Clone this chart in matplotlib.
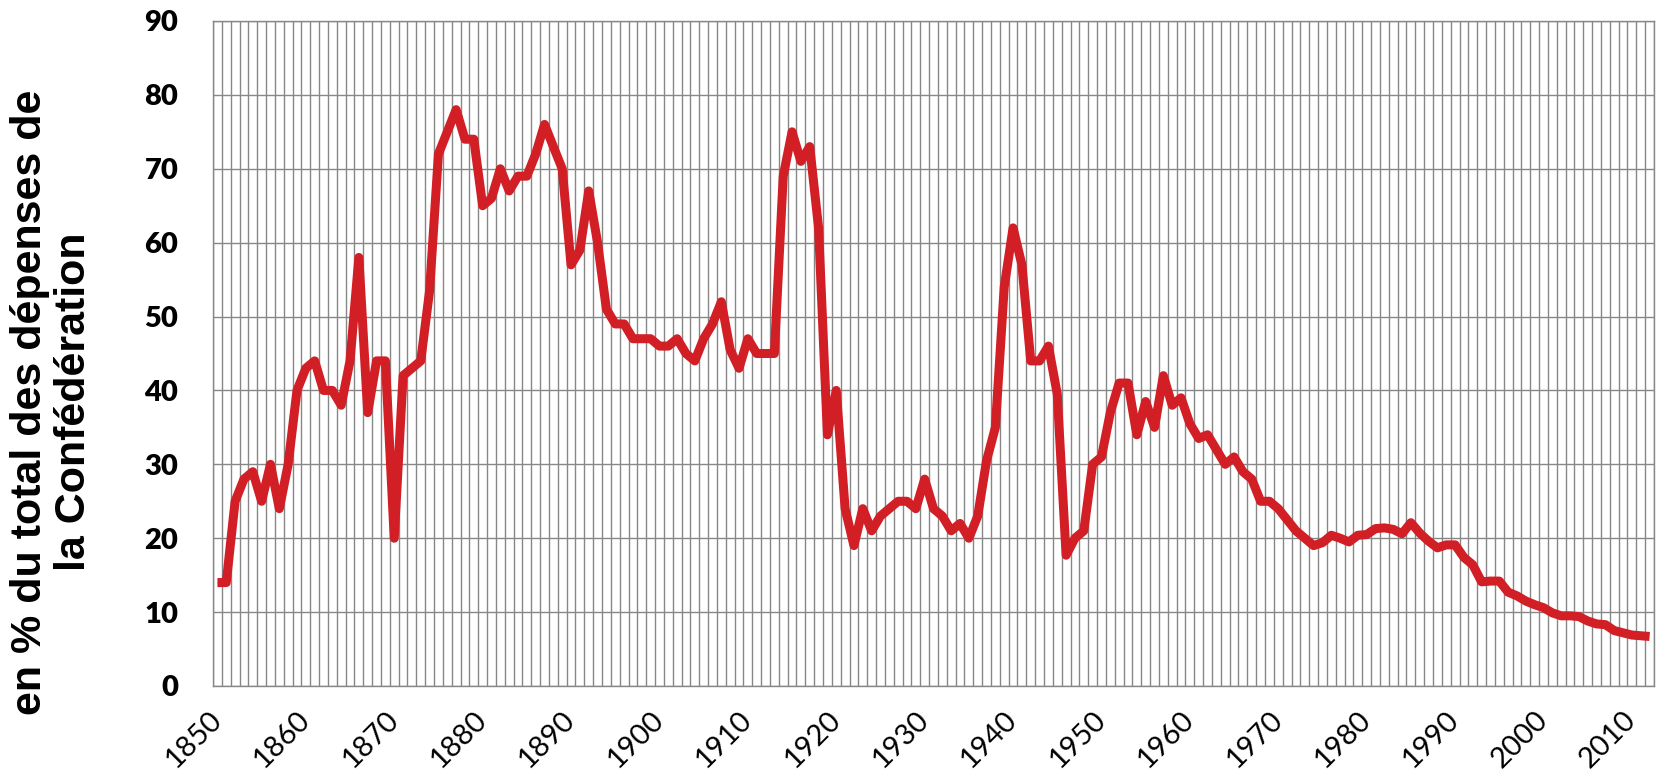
import numpy as np
import matplotlib
matplotlib.use("Agg")
from matplotlib import pyplot as plt

# années 1850-2012, part en % du total des dépenses de la Confédération
years = list(range(1850, 2013))
share = [
    14, 14, 25, 28, 29, 25, 30, 24, 30, 40,          # 1850-1859
    43, 44, 40, 40, 38, 44, 58, 37, 44, 44,          # 1860-1869
    20, 42, 43, 44, 53.5, 72, 75, 78, 74, 74,        # 1870-1879
    65, 66, 70, 67, 69, 69, 72, 76, 73, 70,          # 1880-1889
    57, 59, 67, 60, 51, 49, 49, 47, 47, 47,          # 1890-1899
    46, 46, 47, 45, 44, 47, 49, 52, 45.5, 43,        # 1900-1909
    47, 45, 45, 45, 69, 75, 71, 73, 62, 34,          # 1910-1919
    40, 24, 19, 24, 21, 23, 24, 25, 25, 24,          # 1920-1929
    28, 24, 23, 21, 22, 20, 23, 30.5, 35, 54,        # 1930-1939
    62, 57, 44, 44, 46, 39.5, 17.7, 20, 21, 30,      # 1940-1949
    31, 37, 41, 41, 34, 38.5, 35, 42, 38, 39,        # 1950-1959
    35.5, 33.5, 34, 32, 30, 31, 29, 28, 25, 25,      # 1960-1969
    24, 22.5, 21, 20, 19, 19.4, 20.4, 20, 19.5, 20.4,  # 1970-1979
    20.5, 21.3, 21.4, 21.2, 20.6, 22.1, 20.7, 19.6, 18.7, 19.1,  # 1980-1989
    19.1, 17.4, 16.4, 14.1, 14.2, 14.2, 12.7, 12.2, 11.5, 11.0,  # 1990-1999
    10.6, 9.9, 9.5, 9.5, 9.4, 8.8, 8.4, 8.3, 7.5, 7.2,           # 2000-2009
    6.9, 6.8, 6.7,                                               # 2010-2012
]
tick_years = list(range(1850, 2011, 10))
y_ticks = list(range(0, 91, 10))
ylabel = "en % du total des dépenses de\nla Confédération"

fig = plt.figure(figsize=(16.59, 7.71), dpi=100)
ax = fig.add_axes([213/1659, 1-686/771, (1654-213)/1659, (686-21)/771])

grey = "#878787"
# grille verticale: une ligne entre chaque année
for xg in np.arange(years[0]-0.5, years[-1]+1, 1):
    ax.axvline(xg, color=grey, lw=1.0, zorder=1)
for yg in y_ticks:
    ax.axhline(yg, color=grey, lw=1.0, zorder=1)

ax.plot(years, share, color="#D21F26", lw=6.5, solid_joinstyle="round",
        solid_capstyle="butt", zorder=3)

ax.set_xlim(years[0]-0.5, years[-1]+0.5)
ax.set_ylim(0, 90)
ax.set_yticks(y_ticks)
ax.set_xticks(tick_years)
ax.set_yticklabels([str(v) for v in y_ticks], fontfamily="Lato",
                   fontweight="heavy", fontsize=21)
ax.set_xticklabels([str(v) for v in tick_years], fontfamily="Lato",
                   fontsize=21, rotation=45, ha="right", va="center",
                   rotation_mode="anchor")
ax.tick_params(axis="y", length=0, pad=25)
ax.tick_params(axis="x", length=0, pad=21)
for s in ax.spines.values():
    s.set_color(grey)
    s.set_linewidth(1.0)

fig.text(52/1659, 1-402/771, ylabel, rotation=90, ha="center", va="center",
         multialignment="center", fontfamily="Liberation Sans",
         fontweight="bold", fontsize=31, linespacing=1.1)

fig.savefig("out.png", dpi=100)
